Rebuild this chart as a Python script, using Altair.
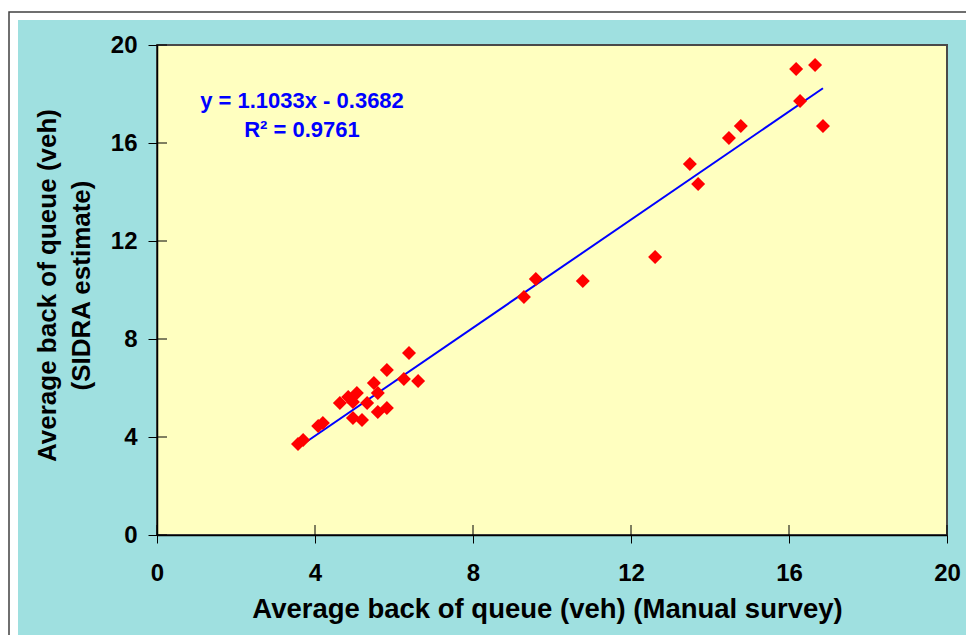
import altair as alt
import pandas as pd

# ---- data ----
manual = [3.57, 3.70, 4.08, 4.20, 4.63, 4.84, 4.96, 5.06, 4.96, 5.19, 5.32,
          5.49, 5.59, 5.59, 5.82, 5.82, 6.25, 6.61, 6.38, 9.29, 9.59, 10.78,
          12.61, 13.49, 13.70, 14.48, 14.78, 16.18, 16.28, 16.66, 16.86]
sidra = [3.71, 3.88, 4.45, 4.57, 5.39, 5.63, 5.43, 5.80, 4.78, 4.69, 5.39,
         6.20, 5.80, 5.02, 5.18, 6.73, 6.37, 6.29, 7.43, 9.71, 10.45, 10.37,
         11.35, 15.14, 14.33, 16.20, 16.69, 19.02, 17.71, 19.18, 16.69]
ticks = [0, 4, 8, 12, 16, 20]
slope = 1.1033
intercept = -0.3682
eq_lines = ["y = 1.1033x - 0.3682", "R\u00b2 = 0.9761"]
x_title = "Average back of queue (veh) (Manual survey)"
y_title = ["Average back of queue (veh)", "(SIDRA estimate)"]

W, H = 790, 490
FONT = "Liberation Sans"
CYAN = "#9FE0E0"
YELLOW = "#FFFFC0"
FRAME = "#4A4A4A"

pts = pd.DataFrame({"manual": manual, "sidra": sidra})
trend = pd.DataFrame({"manual": [min(manual), max(manual)]})
tick_df = pd.DataFrame({"t": ticks})
one = pd.DataFrame({"k": [0]})

xs = alt.Scale(domain=[0, 20], nice=False, zero=False)
ys = alt.Scale(domain=[0, 20], nice=False, zero=False)

x_axis = alt.Axis(
    values=ticks, title=x_title, grid=False, labelFlush=False,
    domainColor="black", domainWidth=1.5,
    tickColor="black", tickSize=8, tickWidth=1,
    labelFont=FONT, labelFontSize=24, labelFontWeight="bold",
    labelColor="black", labelPadding=18,
    titleFont=FONT, titleFontSize=27.5, titleFontWeight="bold",
    titleColor="black", titleX=390, titleY=82, titleAlign="center",
    titleBaseline="alphabetic", zindex=1,
)
y_axis = alt.Axis(
    values=ticks, title=y_title, grid=False, labelFlush=False,
    domainColor="black", domainWidth=1.5,
    tickColor="black", tickSize=9, tickWidth=1,
    labelFont=FONT, labelFontSize=24, labelFontWeight="bold",
    labelColor="black", labelPadding=11,
    titleFont=FONT, titleFontSize=26, titleFontWeight="bold",
    titleColor="black", titleAngle=270, titleX=-110, titleY=240,
    titleAlign="center", titleBaseline="middle", titleLineHeight=34,
    zindex=1,
)


def X(f):
    return alt.X(f, type="quantitative", scale=xs, axis=x_axis)


def Y(f):
    return alt.Y(f, type="quantitative", scale=ys, axis=y_axis)


border = alt.Chart(one).mark_rect(
    fill="white", stroke="#404040", strokeWidth=1.5
).encode(
    x=alt.value(-148), x2=alt.value(W + 80),
    y=alt.value(-33), y2=alt.value(H + 200),
)

cyan = alt.Chart(one).mark_rect(fill=CYAN).encode(
    x=alt.value(-139), x2=alt.value(W + 40),
    y=alt.value(-25), y2=alt.value(H + 150),
)

plot_bg = alt.Chart(one).mark_rect(
    fill=YELLOW, stroke=FRAME, strokeWidth=2
).encode(
    x=alt.value(0), x2=alt.value(W),
    y=alt.value(0), y2=alt.value(H),
)

trend_line = alt.Chart(trend).transform_calculate(
    sidra=f"{slope} * datum.manual + ({intercept})"
).mark_line(color="#0000FF", strokeWidth=2).encode(
    x=X("manual"), y=Y("sidra")
)

points = alt.Chart(pts).mark_point(
    shape="diamond", filled=True, color="#FF0000", size=196, opacity=1
).encode(x=X("manual"), y=Y("sidra"))

x_inner = alt.Chart(tick_df).mark_rule(color="black", strokeWidth=1).encode(
    x=X("t"), y=alt.value(H - 10), y2=alt.value(H)
)
y_inner = alt.Chart(tick_df).mark_rule(color="black", strokeWidth=1).encode(
    y=Y("t"), x=alt.value(0), x2=alt.value(10)
)

equation = alt.Chart(one).mark_text(
    font=FONT, fontSize=22, fontWeight="bold", color="#0000FF",
    align="center", baseline="middle", lineHeight=29,
).encode(
    x=alt.value(145), y=alt.value(56), text=alt.value(eq_lines)
)

chart = alt.layer(
    border, cyan, plot_bg, trend_line, points, x_inner, y_inner, equation
).properties(
    width=W, height=H,
    autosize=alt.AutoSizeParams(type="none"),
    padding={"left": 149, "top": 37, "right": 19, "bottom": 100},
    background="white",
).configure_view(stroke=None)

chart.save("out.html", embed_options={"renderer": "svg", "actions": False})
